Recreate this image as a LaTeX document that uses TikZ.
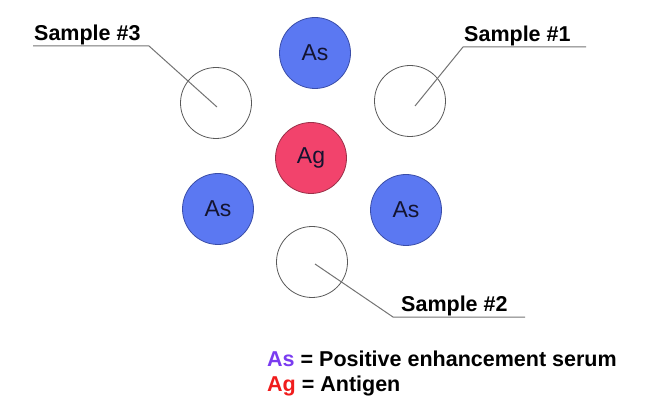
\documentclass[tikz,border=0pt]{standalone}
\usepackage{fontspec}
\setmainfont{Liberation Sans}
\usetikzlibrary{positioning}
\definecolor{serum}{HTML}{5B78F2}
\definecolor{serumrim}{HTML}{3A4DA8}
\definecolor{antigen}{HTML}{F2436C}
\definecolor{antigenrim}{HTML}{9A3048}
\definecolor{keyviolet}{HTML}{7A3CF0}
\definecolor{keyred}{HTML}{F01C1C}
\definecolor{ink}{HTML}{141430}
\tikzset{
  well/.style   ={circle,minimum size=71pt,inner sep=0pt,line width=.8pt,
                  font=\fontsize{23}{26}\selectfont,text=ink},
  as/.style     ={well,draw=serumrim,fill=serum},
  ag/.style     ={well,draw=antigenrim,fill=antigen},
  smp/.style    ={well,draw=black!65,fill=white},
  tag/.style    ={font=\fontsize{21.5}{24}\selectfont\bfseries,inner sep=1pt},
  lead/.style   ={draw=black!55,line width=1pt},
  key/.style    ={font=\fontsize{21.5}{24}\selectfont\bfseries,inner sep=0pt,anchor=base west},
}
\begin{document}
\begin{tikzpicture}[x=1pt,y=-1pt]
  \useasboundingbox (0,0) rectangle (663,411);

  % --- wells ---
  \node[ag] (agc) at (311,158) {Ag};
  \node[as] (ast) at (315,53)  {As};
  \node[as] (asl) at (218,209) {As};
  \node[as] (asr) at (406,210) {As};
  \node[smp] (s3) at (216,103) {};
  \node[smp] (s1) at (410,101) {};
  \node[smp] (s2) at (312,262) {};

  % --- sample labels ---
  \node[tag,anchor=south west] (t3) at (33,46)  {Sample \#3};
  \node[tag,anchor=south west] (t1) at (463,47) {Sample \#1};
  \node[tag,anchor=south west] (t2) at (400,317) {Sample \#2};

  \coordinate (k3) at (149,46);
  \coordinate (e3) at (586,47);
  \coordinate (k2) at (393,317);
  \coordinate (e2) at (525,317);

  \draw[lead] ([shift={(1,4)}]s3.center) -- (k3) -- (t3.south west);
  \draw[lead] ([shift={(5,5)}]s1.center) -- (t1.south west) -- (e3);
  \draw[lead] ([shift={(3,2)}]s2.center) -- (k2) -- (e2);

  % --- legend ---
  \node[key] (key1) at (267,366)
        {\textcolor{keyviolet}{As} = Positive enhancement serum};
  \node[key] (key2) at (267,391)
        {\textcolor{keyred}{Ag} = Antigen};
\end{tikzpicture}
\end{document}
